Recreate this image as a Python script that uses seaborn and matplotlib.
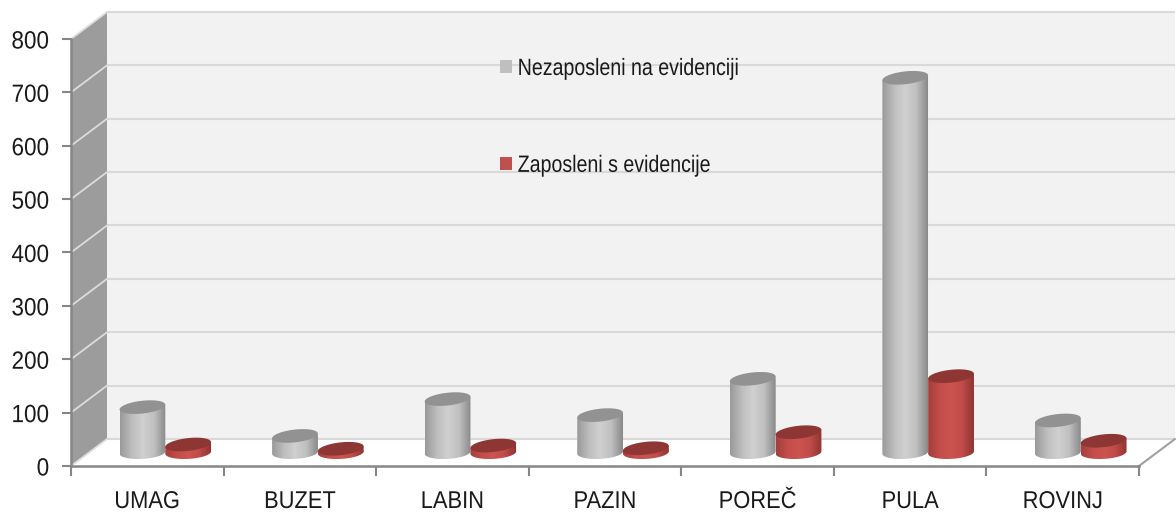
import pandas as pd
import matplotlib
matplotlib.use('Agg')
import matplotlib.pyplot as plt
import numpy as np
import seaborn as sns
from matplotlib.patches import Patch, Polygon
from matplotlib.patheffects import AbstractPathEffect
from matplotlib.transforms import Affine2D

gradovi = ['UMAG', 'BUZET', 'LABIN', 'PAZIN', 'POREČ', 'PULA', 'ROVINJ']
nezaposleni = [85, 31, 100, 70, 138, 702, 60]
zaposleni = [15, 7, 13, 8, 38, 143, 22]
serije = ['Nezaposleni na evidenciji', 'Zaposleni s evidencije']


# nema uskog fonta pa se tekst suzava vodoravno (sidro: 0 lijevo, 0.5 sredina, 1 desno)
class Suzi(AbstractPathEffect):
    def __init__(self, s, sidro=0):
        super().__init__()
        self.s = s
        self.sidro = sidro

    def draw_path(self, renderer, gc, tpath, affine, rgbFace=None):
        sirina = affine.transform_path(tpath).get_extents().width
        pomak = (1 - self.s) * sirina * self.sidro
        novi = Affine2D().scale(self.s, 1) + affine + Affine2D().translate(pomak, 0)
        renderer.draw_path(gc, tpath, novi, rgbFace)


sns.set_theme(style='white')
plt.rcParams['font.family'] = ['Liberation Sans', 'DejaVu Sans']

df = pd.DataFrame({
    'grad': gradovi * 2,
    'serija': [serije[0]] * 7 + [serije[1]] * 7,
    'broj': nezaposleni + zaposleni,
})

fig = plt.figure(figsize=(11.76, 5.14), dpi=100)
ax = fig.add_axes([71 / 1176, 48 / 514, 1068 / 1176, 427 / 514])
ax.patch.set_visible(False)

sns.barplot(data=df, x='grad', y='broj', hue='serija', order=gradovi, hue_order=serije,
            palette=['#bfbfbf', '#c0504d'], width=0.6, gap=0, legend=False, ax=ax)
ax.set_xlim(-0.5, 6.5)
ax.set_ylim(0, 800)
ax.set_xlabel('')
ax.set_ylabel('')

# dubina 3D kutije u jedinicama podataka
DX, DY = 0.236, 50.6
L, R = -0.5, 6.5

# zidovi i pod
ax.add_patch(Polygon([(L + DX, DY), (R + DX, DY), (R + DX, 800 + DY), (L + DX, 800 + DY)],
                     fc='#f2f2f2', ec='none', zorder=0.1, clip_on=False))
ax.add_patch(Polygon([(L, 0), (L + DX, DY), (L + DX, 800 + DY), (L, 800)],
                     fc='#9c9c9c', ec='none', zorder=0.2, clip_on=False))
for v in range(0, 900, 100):
    ax.plot([L + DX, R + DX], [v + DY, v + DY], color='#d9d9d9', lw=1.5, zorder=0.3,
            clip_on=False, solid_capstyle='butt')
    ax.plot([L, L + DX], [v, v + DY], color='#dcdcdc', lw=1.3, zorder=0.3, clip_on=False)
ax.plot([R, R + DX], [0, DY], color='#a0a0a0', lw=1.5, zorder=0.3, clip_on=False)

# valjci napravljeni od stupaca koje je nacrtao seaborn
gradijenti = [sns.blend_palette(['#9a9a9a', '#bdbdbd', '#d0d0d0', '#c0c0c0', '#8a8a8a'], 64),
              sns.blend_palette(['#a33f3d', '#c24d4a', '#cc5451', '#c04b48', '#8f3533'], 64)]
vrhovi = ['#929292', '#8e3634']
A = 0.15
B = 12
NAGIB = 30
t = np.linspace(0, 2 * np.pi, 90)
n = len(gradovi)
for i, p in enumerate(ax.patches[:2 * n]):
    s = i // n
    g = i % n
    cx = p.get_x() + p.get_width() / 2 + DX / 2
    cy = DY / 2
    top = cy + p.get_height()
    dole = t[45:]
    xs = np.r_[cx + A * np.cos(dole), cx + A, cx - A]
    ys = np.r_[cy + B * np.sin(dole) + NAGIB * A * np.cos(dole) * 0.5,
               top + NAGIB * A, top - NAGIB * A]
    z = 2 + g * 2 + s * 0.5
    tijelo = Polygon(np.c_[xs, ys], fc='none', ec='none', transform=ax.transData)
    ax.add_patch(tijelo)
    img = ax.imshow(np.array(gradijenti[s])[None, :, :], aspect='auto', zorder=z,
                    extent=[cx - A, cx + A, cy - B - 5, top + B + 5], interpolation='bilinear')
    img.set_clip_path(tijelo)
    p.set_x(cx - A)
    p.set_y(cy)
    p.set_zorder(z - 0.1)
    p.set_clip_path(tijelo)
    ax.fill(cx + A * np.cos(t), top + B * np.sin(t) + NAGIB * A * np.cos(t), color=vrhovi[s],
            zorder=z + 0.1, clip_on=False, lw=0)
ax.set_xlim(L, R)
ax.set_ylim(0, 800)

# osi
for side in ['top', 'right']:
    ax.spines[side].set_visible(False)
for side in ['left', 'bottom']:
    ax.spines[side].set_color('#868686')
    ax.spines[side].set_linewidth(1.8)
    ax.spines[side].set_zorder(1)
ax.set_yticks(range(0, 900, 100))
ax.set_xticks(range(7), gradovi)
ax.set_xticks(np.arange(-0.5, 7), minor=True)
ax.tick_params(axis='y', length=6.5, width=1.5, color='#868686', pad=9, labelsize=18,
               labelcolor='#1a1a1a', left=True)
ax.tick_params(axis='x', which='major', length=0, pad=18, labelsize=17.5, labelcolor='#1a1a1a')
ax.tick_params(axis='x', which='minor', length=7, width=1.5, color='#868686', bottom=True)
for lab in ax.get_yticklabels():
    lab.set_path_effects([Suzi(0.9, 1)])
for lab in ax.get_xticklabels():
    lab.set_path_effects([Suzi(0.9, 0.5)])

# legenda
rukovatelji = [Patch(fc='#bfbfbf', ec='none'), Patch(fc='#c0504d', ec='none')]
leg = ax.legend(rukovatelji, serije, frameon=False, fontsize=17, labelcolor='#1a1a1a',
                handlelength=0.5, handleheight=0.5, handletextpad=0.25, labelspacing=3.17,
                borderpad=0, borderaxespad=0, loc='upper left',
                bbox_to_anchor=(500 / 1176, 1 - 58 / 514), bbox_transform=fig.transFigure)
for tekst in leg.get_texts():
    tekst.set_path_effects([Suzi(0.83)])

fig.savefig('out.png', dpi=100, facecolor='white')
